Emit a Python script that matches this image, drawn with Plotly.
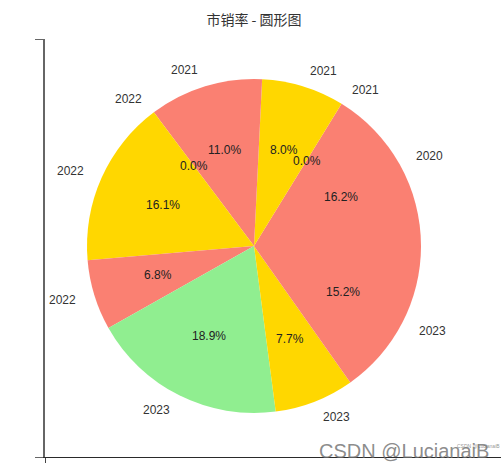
import math
import plotly.graph_objects as go

# ---- data ----
labels = ["2020", "2021", "2021", "2021", "2022", "2022", "2022", "2023", "2023", "2023"]
values = [16.2, 0.0, 8.0, 11.0, 0.0, 16.1, 6.8, 18.9, 7.7, 15.2]
palette = ["#FA8072", "#90EE90", "#FFD700"]   # salmon, lightgreen, gold (cycled)
title_text = "市销率 - 圆形图"

colors = [palette[i % len(palette)] for i in range(len(values))]
total = sum(values)

# ---- geometry (pixels) ----
W, H = 501, 463
cx, cy, R = 254, 246, 167          # pie centre and radius
ax_left, ax_top, ax_bottom = 45, 39, 457

fig = go.Figure()

# pie: first slice starts at 3 o'clock and runs counter-clockwise (matplotlib style).
# plotly's counter-clockwise mode ends the first slice at `rotation`, so shift by it.
first_angle = 360 * values[0] / total
fig.add_trace(go.Pie(
    labels=[f"{l}-{i}" for i, l in enumerate(labels)],
    values=values,
    marker=dict(colors=colors, line=dict(width=0)),
    sort=False,
    direction="counterclockwise",
    rotation=90 - first_angle,
    textinfo="none",
    hoverinfo="none",
    showlegend=False,
    domain=dict(x=[(cx - R) / W, (cx + R) / W],
                y=[1 - (cy + R) / H, 1 - (cy - R) / H]),
))

# invisible cartesian trace so axes (spines) are drawn
x_range = [(ax_left - cx) / R, (W - cx) / R]
y_range = [(cy - ax_bottom) / R, (cy - ax_top) / R]
fig.add_trace(go.Scatter(x=[0], y=[0], mode="markers",
                         marker=dict(opacity=0), hoverinfo="skip", showlegend=False))

# labels computed from the data (start at 0°, counter-clockwise)
annotations = []
cum = 0.0
font_txt = "Liberation Sans, Arial, sans-serif"
for lab, v in zip(labels, values):
    a0 = cum / total * 2 * math.pi
    cum += v
    a1 = cum / total * 2 * math.pi
    mid = (a0 + a1) / 2
    c, s = math.cos(mid), math.sin(mid)
    annotations.append(dict(
        x=1.1 * c, y=1.1 * s, xref="x", yref="y", text=lab, showarrow=False,
        xanchor="left" if c > 0 else "right", yanchor="middle",
        font=dict(family=font_txt, size=12, color="#333333")))
    annotations.append(dict(
        x=0.6 * c, y=0.6 * s, xref="x", yref="y", text=f"{v / total * 100:.1f}%",
        showarrow=False, xanchor="center", yanchor="middle",
        font=dict(family=font_txt, size=12, color="#222222")))

# watermark
annotations.append(dict(x=317 / W, y=1 - 451 / H, xref="paper", yref="paper",
                        text="CSDN @LucianaiB", showarrow=False, xanchor="left",
                        yanchor="middle",
                        font=dict(family=font_txt, size=20, color="rgba(110,110,110,0.8)")))
annotations.append(dict(x=455 / W, y=1 - 446 / H, xref="paper", yref="paper",
                        text="CSDN @LucianaiB", showarrow=False, xanchor="left",
                        yanchor="middle",
                        font=dict(family=font_txt, size=5, color="rgba(120,120,120,0.8)")))

fig.update_layout(
    width=W, height=H,
    margin=dict(l=0, r=0, t=0, b=0),
    paper_bgcolor="white", plot_bgcolor="rgba(0,0,0,0)",
    title=dict(text=title_text, x=cx / W, y=1 - 20 / H, xanchor="center", yanchor="middle",
               xref="paper", yref="paper",
               font=dict(family="Noto Sans CJK SC", size=14, color="#333333")),
    xaxis=dict(domain=[ax_left / W, 1], range=x_range, showgrid=False, zeroline=False,
               showline=True, linecolor="#2a2a2a", linewidth=1.4,
               ticks="outside", ticklen=6, tickcolor="#444444", tickwidth=1.4,
               tickvals=[x_range[0]], showticklabels=False, fixedrange=True),
    yaxis=dict(domain=[1 - ax_bottom / H, 1 - ax_top / H], range=y_range, showgrid=False,
               zeroline=False, showline=True, linecolor="#666666", linewidth=1.6,
               ticks="outside", ticklen=8, tickcolor="#666666", tickwidth=1.4,
               tickvals=[y_range[0], y_range[1]], showticklabels=False, fixedrange=True),
    annotations=annotations,
)

fig.write_html(
    "out.html",
    config={"displayModeBar": False},
    post_script="document.body.style.margin='0';document.body.style.overflow='hidden';",
)
